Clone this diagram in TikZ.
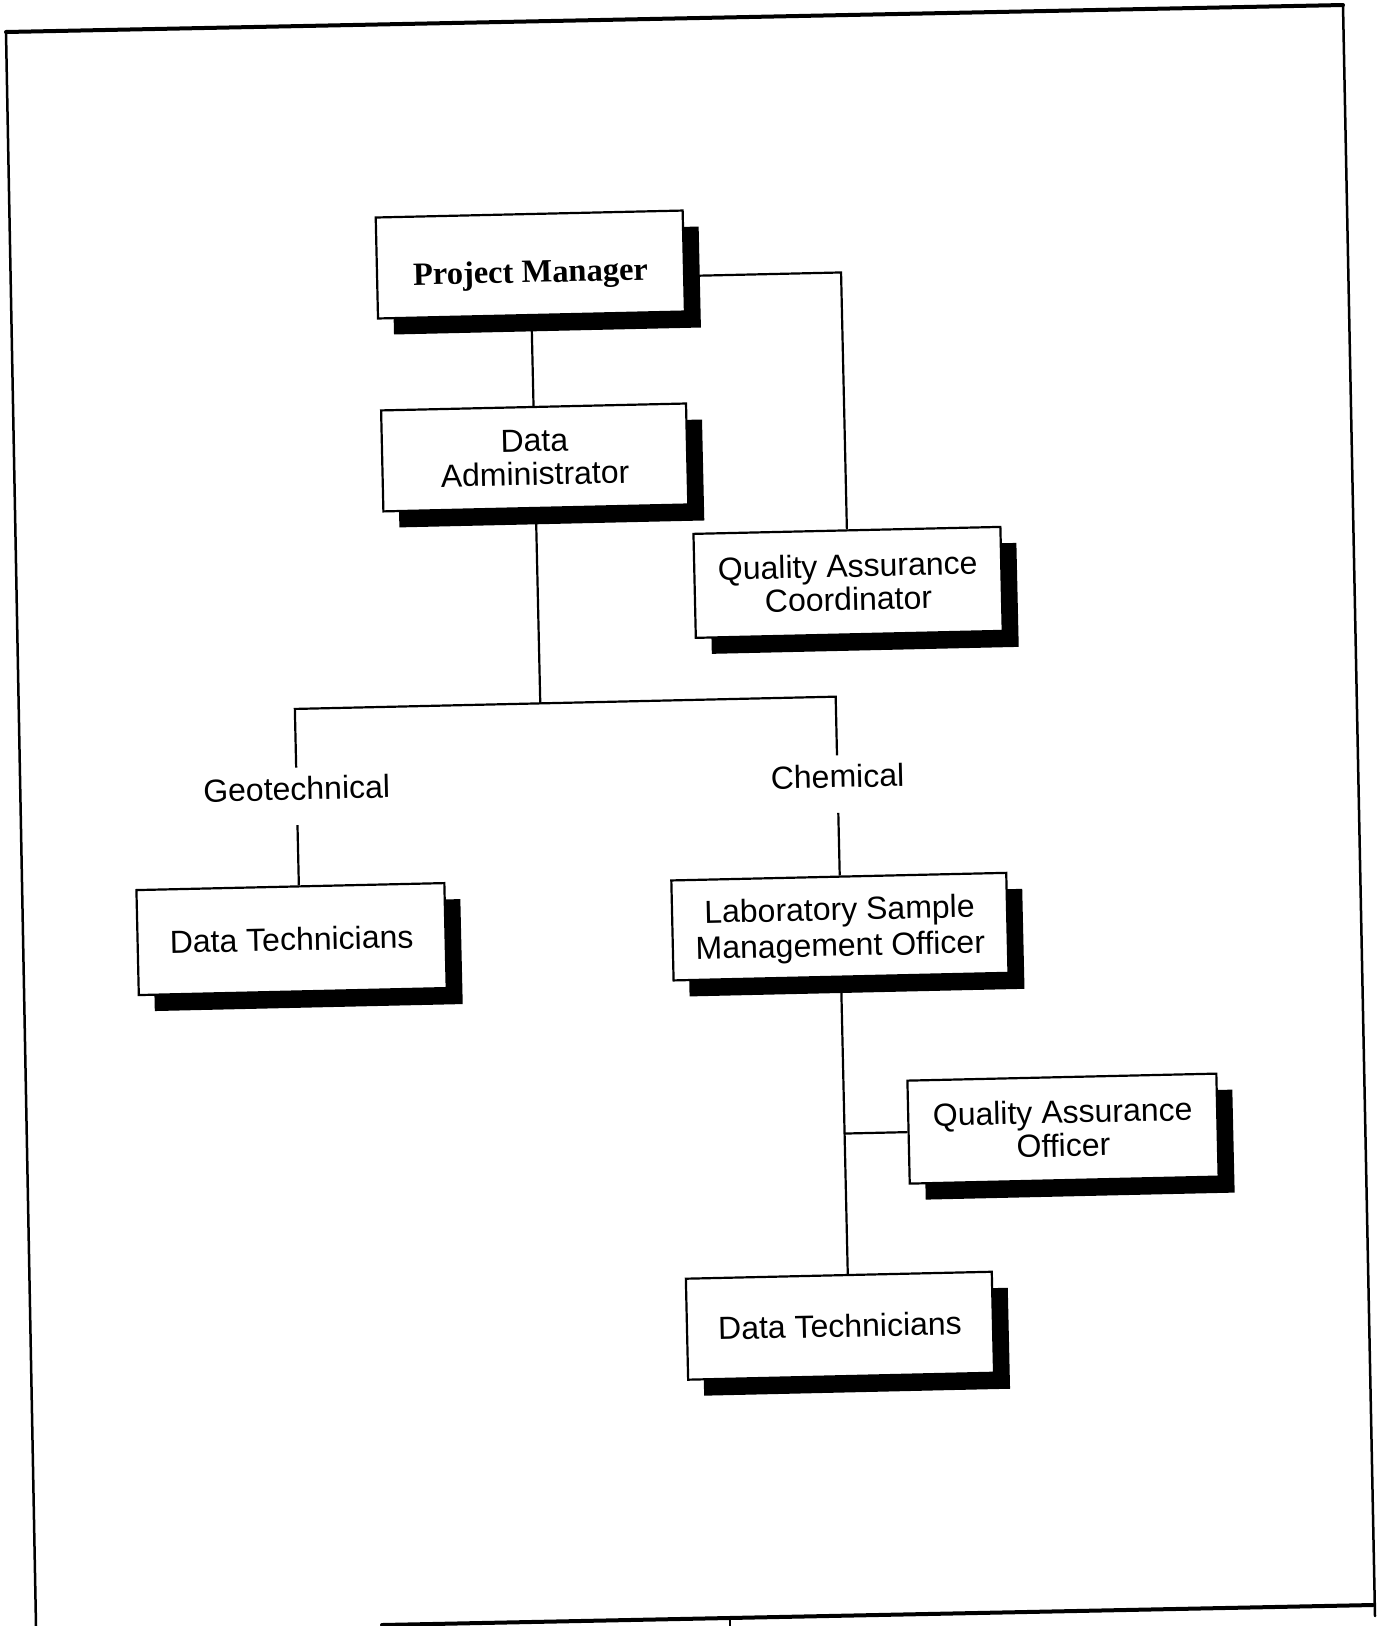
\documentclass[tikz,border=0pt]{standalone}
\usepackage{fontspec}
\newfontfamily\hv{Liberation Sans}
\newfontfamily\pmserif{Liberation Serif}
\usetikzlibrary{shadows}
\begin{document}
\begin{tikzpicture}[x=1pt,y=-1pt,
  box/.style={draw=black, line width=2.2pt, fill=white, inner sep=0pt, align=center,
    font=\hv\fontsize{32}{33.5}\selectfont,
    general shadow={fill=black, shadow xshift=16pt, shadow yshift=-16pt}},
  lbl/.style={inner sep=0pt, font=\hv\fontsize{32}{33}\selectfont, text height=32pt, text depth=25pt},
  conn/.style={line width=2.2pt},
  thickframe/.style={line width=4pt, line cap=round},
  thinframe/.style={line width=2.5pt, line cap=round}]
\useasboundingbox (0,0) rectangle (1379,1626);
\fill[white] (0,0) rectangle (1379,1626);
% scanned page frame
\draw[thickframe] (6,32) -- (1343,5);
\draw[thinframe] (6,32) -- (36,1626);
\draw[thinframe] (1343,5) -- (1375,1616);
\draw[thickframe] (382,1625) -- (1373,1605);
\draw[line width=1.5pt] (730,1618) -- (730,1626);
\begin{scope}[rotate around={1.3:(690,800)}, transform shape]
  \node[box, minimum width=307pt, minimum height=101pt, text height=36pt, text depth=0pt,
        font=\pmserif\fontsize{32.5}{34}\selectfont\bfseries] (PM) at (542.5,261) {Project Manager};
  \node[box, minimum width=305pt, minimum height=101pt] (DA) at (542.5,454) {Data\\Administrator};
  \node[box, minimum width=307pt, minimum height=104pt] (QAC) at (853,586) {Quality Assurance\\Coordinator};
  \node[box, minimum width=308pt, minimum height=105pt] (DTL) at (288.5,930) {Data Technicians};
  \node[box, minimum width=335pt, minimum height=100pt, text depth=0pt,
        font=\hv\fontsize{32}{36}\selectfont] (LSMO) at (837,930) {Laboratory Sample\\Management Officer};
  \node[box, minimum width=309pt, minimum height=103pt] (QAO) at (1055.5,1137) {Quality Assurance\\Officer};
  \node[box, minimum width=306pt, minimum height=101pt] (DTR) at (828,1329) {Data Technicians};
  \node[lbl] (geo) at (297,787.5) {Geotechnical};
  \node[lbl] (chem) at (838,787.5) {Chemical};
  \coordinate (hl) at (0,700);
  \coordinate (pmr) at (697,276);
  \draw[conn] (PM.south) -- (DA.north);
  \draw[conn] (pmr) -- (pmr -| QAC.north) -- (QAC.north);
  \draw[conn] (DA.south) -- (DA.south |- hl);
  \draw[conn] (geo.north) -- (geo.north |- hl) -- (chem.north |- hl) -- (chem.north);
  \draw[conn] (geo.south) -- (geo.south |- DTL.north);
  \draw[conn] (chem.south) -- (chem.south |- LSMO.north);
  \draw[conn] (LSMO.south) -- (LSMO.south |- DTR.north);
  \draw[conn] (QAO.west) -- (QAO.west -| LSMO.south);
\end{scope}
\end{tikzpicture}
\end{document}
